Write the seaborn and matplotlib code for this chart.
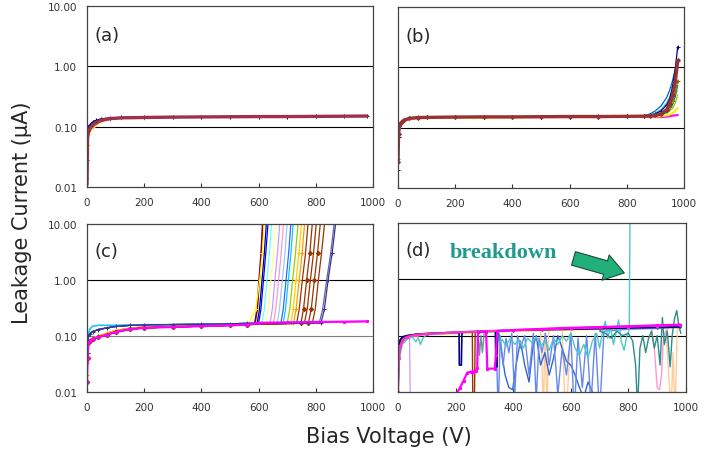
import matplotlib
matplotlib.use("Agg")
import matplotlib.pyplot as plt
import seaborn as sns
from matplotlib.ticker import NullLocator


# ---- panel (a): all diodes stable ----
a_volt = [0, 2, 5, 10, 20, 30, 50, 80, 120, 200, 300, 400, 500, 600, 700, 800, 900, 980]
a_navy = [0.028, 0.085, 0.1, 0.108, 0.12, 0.127, 0.135, 0.14, 0.142, 0.143, 0.144, 0.145, 0.146, 0.146, 0.147, 0.148, 0.149, 0.15]
a_blue = [0.02, 0.07, 0.09, 0.1, 0.112, 0.12, 0.13, 0.137, 0.14, 0.142, 0.143, 0.144, 0.145, 0.146, 0.147, 0.148, 0.149, 0.15]
a_yellow = [0.014, 0.05, 0.075, 0.088, 0.1, 0.11, 0.123, 0.133, 0.138, 0.141, 0.143, 0.144, 0.145, 0.146, 0.146, 0.147, 0.148, 0.149]
a_green = [0.012, 0.055, 0.07, 0.085, 0.098, 0.108, 0.122, 0.132, 0.137, 0.14, 0.142, 0.143, 0.144, 0.145, 0.146, 0.147, 0.148, 0.149]
a_magenta = [0.01, 0.06, 0.08, 0.092, 0.104, 0.113, 0.126, 0.134, 0.139, 0.141, 0.143, 0.144, 0.145, 0.146, 0.147, 0.148, 0.149, 0.15]
a_plum = [0.011, 0.065, 0.082, 0.094, 0.106, 0.116, 0.128, 0.136, 0.14, 0.142, 0.144, 0.145, 0.146, 0.147, 0.147, 0.148, 0.149, 0.15]

# ---- panel (b): soft rise above ~880 V ----
b_volt = [0, 2, 5, 10, 20, 40, 70, 100, 200, 300, 400, 500, 600, 700, 800, 860,
          880, 900, 920, 940, 950, 960, 970, 978]
b_navy = [0.02, 0.07, 0.11, 0.125, 0.135, 0.145, 0.148, 0.148, 0.15, 0.151, 0.152, 0.152, 0.153, 0.154, 0.155, 0.156,
          0.16, 0.17, 0.19, 0.24, 0.3, 0.48, 1.0, 2.2]
b_blue = [0.025, 0.075, 0.105, 0.122, 0.133, 0.144, 0.147, 0.148, 0.15, 0.151, 0.151, 0.152, 0.153, 0.153, 0.155, 0.158,
          0.168, 0.19, 0.23, 0.32, 0.42, 0.6, 0.95, 1.15]
b_cyan = [0.03, 0.08, 0.105, 0.12, 0.132, 0.143, 0.147, 0.148, 0.15, 0.151, 0.151, 0.152, 0.153, 0.153, 0.154, 0.156,
          0.162, 0.175, 0.2, 0.26, 0.32, 0.45, 0.7, 1.1]
b_maroon = [0.027, 0.08, 0.105, 0.12, 0.132, 0.143, 0.147, 0.148, 0.15, 0.151, 0.151, 0.152, 0.153, 0.153, 0.154, 0.155,
            0.156, 0.16, 0.17, 0.2, 0.25, 0.35, 0.6, 1.3]
b_olive = [0.03, 0.08, 0.105, 0.12, 0.132, 0.143, 0.147, 0.148, 0.15, 0.151, 0.151, 0.152, 0.153, 0.153, 0.154, 0.155,
           0.156, 0.16, 0.17, 0.19, 0.22, 0.28, 0.4, 0.6]
b_teal = [0.025, 0.08, 0.105, 0.12, 0.132, 0.143, 0.147, 0.148, 0.15, 0.151, 0.151, 0.152, 0.153, 0.153, 0.154, 0.155,
          0.155, 0.158, 0.165, 0.18, 0.2, 0.24, 0.33, 0.5]
b_lime = [0.03, 0.08, 0.105, 0.12, 0.132, 0.143, 0.147, 0.148, 0.15, 0.151, 0.151, 0.152, 0.153, 0.153, 0.154, 0.155,
          0.155, 0.157, 0.162, 0.175, 0.19, 0.21, 0.26, 0.35]
b_yellow = [0.03, 0.085, 0.1, 0.115, 0.13, 0.14, 0.145, 0.146, 0.148, 0.146, 0.148, 0.15, 0.15, 0.15, 0.151, 0.152,
            0.152, 0.153, 0.155, 0.16, 0.165, 0.175, 0.19, 0.21]
b_magenta = [0.03, 0.085, 0.1, 0.115, 0.13, 0.14, 0.145, 0.146, 0.148, 0.148, 0.149, 0.15, 0.15, 0.15, 0.151, 0.151,
             0.15, 0.15, 0.15, 0.152, 0.155, 0.158, 0.16, 0.162]

# ---- panel (c): hard breakdown between 590 and 870 V ----
c_volt_low = [0, 2, 5, 10, 20, 40, 70, 100, 150, 200, 300, 400, 500, 560]
c_low_cyan = [0.02, 0.06, 0.11, 0.135, 0.15, 0.155, 0.155, 0.155, 0.158, 0.16, 0.16, 0.162, 0.165, 0.168]
c_low_navy = [0.015, 0.05, 0.1, 0.11, 0.12, 0.13, 0.14, 0.148, 0.155, 0.158, 0.16, 0.162, 0.165, 0.168]
c_low_brown = [0.015, 0.04, 0.075, 0.082, 0.088, 0.095, 0.105, 0.118, 0.132, 0.14, 0.145, 0.15, 0.155, 0.16]
c_low_orange = [0.02, 0.05, 0.08, 0.085, 0.09, 0.1, 0.112, 0.125, 0.138, 0.145, 0.15, 0.153, 0.158, 0.162]

# current levels and the voltage each diode reaches them at
c_bd_curr = [0.17, 0.3, 1.0, 3.0, 12.0]
c_bd_volts = [
    [586, 594, 601, 608, 614],
    [588, 596, 603, 610, 616],
    [565, 590, 604, 613, 620],
    [595, 603, 612, 620, 628],
    [600, 608, 617, 625, 634],
    [612, 620, 629, 638, 646],
    [626, 634, 643, 652, 661],
    [640, 648, 657, 666, 675],
    [652, 660, 670, 679, 688],
    [665, 673, 683, 692, 701],
    [678, 686, 696, 705, 714],
    [686, 694, 704, 713, 722],
    [700, 709, 719, 729, 739],
    [712, 721, 731, 741, 751],
    [722, 731, 742, 752, 762],
    [733, 742, 753, 764, 774],
    [748, 757, 768, 779, 789],
    [760, 770, 781, 792, 803],
    [774, 784, 795, 806, 817],
    [788, 798, 809, 820, 832],
    [812, 824, 838, 852, 866],
    [818, 830, 843, 857, 871],
]
c_bd_colors = ["#800080", "#800000", "#FFFF00", "#000080", "#0000FF", "#66FFFF", "#FFFF99", "#CC99FF",
               "#FF99CC", "#99CCFF", "#3366FF", "#00CCFF", "#99CC00", "#FFCC00", "#FF9900", "#993300",
               "#993300", "#993300", "#993300", "#993300", "#666699", "#333399"]
c_bd_markers = [None, None, "+", None, None, None, None, None,
                None, None, None, None, None, "+", "+", None,
                "D", None, "D", None, None, "+"]
c_bd_profile = [2, 2, 3, 1, 1, 0, 3, 3, 0, 0, 1, 0, 3, 3, 3, 2, 2, 2, 2, 2, 1, 1]

c_flat_volt = [600, 700, 800, 900, 980]
c_flat_magenta = [0.172, 0.175, 0.178, 0.18, 0.183]
c_flat_pink = [0.17, 0.172, 0.175, 0.177, 0.18]

# ---- panel (d): unstable diodes ----
d_volt = [0, 3, 8, 15, 30, 60, 100, 200, 300, 400, 500, 600, 700, 800, 900, 980]
d_black = [0.025, 0.065, 0.085, 0.095, 0.1, 0.105, 0.108, 0.114, 0.119, 0.123, 0.126, 0.129, 0.132, 0.136, 0.139, 0.142]
d_yellow = [0.012, 0.04, 0.065, 0.08, 0.093, 0.1, 0.105, 0.111, 0.116, 0.12, 0.124, 0.127, 0.13, 0.134, 0.137, 0.14]
d_lightblue = [0.015, 0.045, 0.068, 0.082, 0.095, 0.102, 0.106, 0.112, 0.117, 0.121, 0.125, 0.128, 0.131, 0.135, 0.138, 0.141]
d_orange = [0.01, 0.035, 0.06, 0.078, 0.09, 0.098, 0.104, 0.11, 0.115, 0.12, 0.124, 0.128, 0.132, 0.136, 0.14, 0.144]
d_magenta = [0.01, 0.04, 0.065, 0.08, 0.095, 0.103, 0.107, 0.114, 0.12, 0.125, 0.13, 0.135, 0.14, 0.145, 0.15, 0.155]

d_lav_volt = [0, 5, 15, 30, 40, 43]
d_lav_curr = [0.01, 0.05, 0.08, 0.095, 0.1, 0.005]

d_navy_volt = [0, 3, 8, 15, 30, 60, 100, 150, 200, 212, 213, 220, 222, 300, 338, 340, 344, 346,
               400, 500, 600, 700, 800, 900, 980]
d_navy_curr = [0.03, 0.07, 0.085, 0.095, 0.1, 0.105, 0.108, 0.112, 0.114, 0.115, 0.03, 0.03, 0.116, 0.12,
               0.122, 0.028, 0.028, 0.123, 0.125, 0.128, 0.13, 0.133, 0.137, 0.14, 0.143]

d_brown_volt = [0, 3, 8, 15, 30, 60, 100, 200, 250, 258, 260, 265, 268, 300, 400, 500, 600, 700, 800, 900, 980]
d_brown_curr = [0.012, 0.05, 0.075, 0.09, 0.1, 0.106, 0.11, 0.115, 0.118, 0.118, 0.004, 0.004, 0.118, 0.12,
                0.124, 0.128, 0.132, 0.136, 0.14, 0.143, 0.147]

d_gray_volt = [270, 278, 283, 288, 293, 300]
d_gray_curr = [0.118, 0.118, 0.045, 0.1, 0.05, 0.119]

d_mag2_volt = [195, 203, 215, 228, 240, 252, 262, 270, 275, 278, 306, 310, 336, 340, 344,
               400, 500, 600, 700, 800, 900, 980]
d_mag2_curr = [0.005, 0.009, 0.012, 0.016, 0.022, 0.023, 0.023, 0.024, 0.027, 0.115, 0.118, 0.026, 0.026,
               0.045, 0.12, 0.126, 0.132, 0.138, 0.142, 0.147, 0.152, 0.157]

d_aqua_volt = [0, 5, 15, 30, 50, 62, 70, 78, 86, 95, 110, 200, 300, 345, 352, 362, 375, 390, 405, 420,
               435, 450, 465, 480, 495, 510, 525, 540, 555, 570, 585, 600, 615, 630, 645, 660, 675, 690,
               700, 712, 720, 728, 738, 748, 758, 766, 775, 785, 795, 803, 806]
d_aqua_curr = [0.01, 0.04, 0.07, 0.085, 0.095, 0.078, 0.092, 0.07, 0.088, 0.1, 0.105, 0.112, 0.117, 0.118,
               0.075, 0.085, 0.065, 0.09, 0.07, 0.085, 0.06, 0.09, 0.075, 0.095, 0.065, 0.08, 0.055, 0.09,
               0.07, 0.1, 0.08, 0.11, 0.06, 0.045, 0.07, 0.04, 0.08, 0.11, 0.06, 0.13, 0.18, 0.09, 0.14,
               0.07, 0.12, 0.19, 0.08, 0.055, 0.1, 0.13, 30]

d_blue1_volt = [0, 5, 15, 30, 60, 100, 200, 300, 340, 348, 355, 365, 375, 385, 395, 405, 415, 425, 440,
                455, 470, 480, 490, 500, 512, 525, 540, 555, 570, 585, 600, 612, 625, 640, 655, 670, 685,
                700, 715, 800, 900, 980]
d_blue1_curr = [0.01, 0.05, 0.08, 0.095, 0.105, 0.11, 0.115, 0.12, 0.122, 0.004, 0.1, 0.03, 0.09, 0.05,
                0.11, 0.008, 0.1, 0.06, 0.1, 0.02, 0.11, 0.007, 0.09, 0.05, 0.11, 0.03, 0.1, 0.009, 0.06,
                0.02, 0.11, 0.004, 0.09, 0.012, 0.1, 0.006, 0.11, 0.004, 0.12, 0.13, 0.135, 0.14]

d_blue2_volt = [350, 360, 372, 385, 398, 410, 425, 440, 455, 468, 480, 495, 510, 525, 540, 555, 570, 585,
                600, 615, 630, 645, 660, 675, 690]
d_blue2_curr = [0.11, 0.05, 0.02, 0.012, 0.011, 0.03, 0.08, 0.03, 0.015, 0.06, 0.1, 0.03, 0.05, 0.02, 0.04,
                0.1, 0.06, 0.035, 0.03, 0.02, 0.012, 0.008, 0.015, 0.01, 0.005]

d_tan_volt = [0, 5, 15, 30, 60, 100, 200, 300, 400, 495, 500, 505, 510, 518, 522, 526, 540, 570, 578, 585,
              592, 600, 700, 800, 900, 930, 940, 948, 955, 962, 970, 980]
d_tan_curr = [0.01, 0.05, 0.078, 0.092, 0.102, 0.108, 0.113, 0.118, 0.122, 0.125, 0.03, 0.004, 0.11, 0.004,
              0.1, 0.126, 0.127, 0.128, 0.01, 0.004, 0.02, 0.129, 0.132, 0.136, 0.14, 0.14, 0.02, 0.004,
              0.05, 0.004, 0.13, 0.144]

d_pink_volt = [0, 5, 15, 30, 60, 100, 200, 400, 600, 800, 880, 890, 900, 908, 915, 922, 940, 980]
d_pink_curr = [0.01, 0.045, 0.072, 0.088, 0.1, 0.106, 0.112, 0.122, 0.13, 0.138, 0.14, 0.06, 0.012, 0.011,
               0.02, 0.1, 0.142, 0.146]

d_teal_volt = [700, 720, 740, 760, 780, 800, 815, 825, 832, 840, 850, 860, 870, 880, 890, 900, 910, 918,
               925, 935, 945, 952, 960, 968, 975, 982]
d_teal_curr = [0.12, 0.11, 0.09, 0.12, 0.1, 0.11, 0.08, 0.03, 0.005, 0.06, 0.1, 0.05, 0.09, 0.12, 0.06, 0.1,
               0.03, 0.21, 0.07, 0.12, 0.028, 0.1, 0.2, 0.28, 0.15, 0.11]


sns.set_style("white")
plt.rcParams["font.family"] = ["DejaVu Sans"]


def draw(ax, volt, curr, color, lw=0.9, marker=None, ms=2.2):
    kw = {}
    if marker:
        kw = dict(marker=marker, markersize=ms, markeredgewidth=0.7, markeredgecolor=color)
    sns.lineplot(x=volt, y=curr, ax=ax, color=color, linewidth=lw,
                 estimator=None, sort=False, legend=False, **kw)


def style(ax, label, grid_low="black", ylabels=True):
    ax.set_yscale("log")
    ax.set_xlim(0, 1000)
    ax.set_ylim(0.01, 10)
    ax.set_yticks([0.01, 0.1, 1, 10])
    if ylabels:
        ax.set_yticklabels(["0.01", "0.10", "1.00", "10.00"])
    else:
        ax.set_yticklabels([])
    ax.yaxis.set_minor_locator(NullLocator())
    ax.set_xticks(range(0, 1001, 200))
    ax.tick_params(axis="x", direction="in", length=3, width=0.8, labelsize=7.5,
                   pad=7, colors="#333333", bottom=True)
    ax.tick_params(axis="y", length=0, labelsize=7.5, pad=7, colors="#333333")
    ax.axhline(1.0, color="black", lw=0.8, zorder=0)
    ax.axhline(0.1, color=grid_low, lw=0.8, zorder=0)
    for sp in ax.spines.values():
        sp.set_color("#444444")
        sp.set_linewidth(0.9)
    ax.set_xlabel("")
    ax.set_ylabel("")
    ax.text(0.025, 0.84, label, transform=ax.transAxes, fontsize=13, va="center")


fig = plt.figure(figsize=(7.13, 4.52), dpi=100)
ax_a = fig.add_axes([87 / 713, 1 - 188 / 452, 286 / 713, 181 / 452])
ax_b = fig.add_axes([398 / 713, 1 - 189 / 452, 286 / 713, 181 / 452])
ax_c = fig.add_axes([87 / 713, 1 - 393 / 452, 286 / 713, 168 / 452])
ax_d = fig.add_axes([398 / 713, 1 - 393 / 452, 288 / 713, 169 / 452])

# (a)
draw(ax_a, a_volt, a_yellow, "#FFCC00", marker="+")
draw(ax_a, a_volt, a_green, "#808000")
draw(ax_a, a_volt, a_blue, "#3366FF")
draw(ax_a, a_volt, a_magenta, "#FF00FF")
draw(ax_a, a_volt, a_navy, "#000080", marker="+")
draw(ax_a, a_volt, a_plum, "#A0304C", lw=2.4)

# (b)
draw(ax_b, b_volt, b_magenta, "#FF00FF", lw=1.5)
draw(ax_b, b_volt, b_yellow, "#FFEE00", lw=1.5)
draw(ax_b, b_volt, b_lime, "#99CC00")
draw(ax_b, b_volt, b_teal, "#008080")
draw(ax_b, b_volt, b_olive, "#808000", marker="+")
draw(ax_b, b_volt, b_cyan, "#33CCCC")
draw(ax_b, b_volt, b_blue, "#0066CC")
draw(ax_b, b_volt, b_navy, "#000080", marker="+")
draw(ax_b, b_volt, b_maroon, "#993333", lw=2.4, marker="D", ms=2)

# (c)
c_low_profiles = [c_low_cyan, c_low_navy, c_low_brown, c_low_orange]
draw(ax_c, c_volt_low + c_flat_volt, c_low_orange + c_flat_pink, "#FF99CC")
for i, color in enumerate(c_bd_colors):
    low = c_low_profiles[c_bd_profile[i]]
    draw(ax_c, c_volt_low + c_bd_volts[i], low + c_bd_curr, color, marker=c_bd_markers[i])
draw(ax_c, c_volt_low + c_flat_volt, c_low_brown + c_flat_magenta, "#FF00FF", lw=1.6, marker="s", ms=1.8)

# (d)
draw(ax_d, d_volt, d_orange, "#FFCC99")
draw(ax_d, d_volt, d_lightblue, "#99CCFF")
draw(ax_d, d_volt, d_yellow, "#FFFF00", lw=1.3)
draw(ax_d, d_volt, d_black, "#333333", lw=0.8, marker=".", ms=2)
draw(ax_d, d_lav_volt, d_lav_curr, "#CC99FF")
draw(ax_d, d_tan_volt, d_tan_curr, "#FFCC99", lw=1.0)
draw(ax_d, d_pink_volt, d_pink_curr, "#FF99CC", lw=1.0)
draw(ax_d, d_brown_volt, d_brown_curr, "#993300", lw=1.0)
draw(ax_d, d_gray_volt, d_gray_curr, "#669999", lw=1.0)
draw(ax_d, d_blue2_volt, d_blue2_curr, "#3366CC", lw=1.0)
draw(ax_d, d_blue1_volt, d_blue1_curr, "#6688EE", lw=1.0)
draw(ax_d, d_aqua_volt, d_aqua_curr, "#4CC8C8", lw=1.0)
draw(ax_d, d_teal_volt, d_teal_curr, "#2E8B8B", lw=1.0)
draw(ax_d, d_navy_volt, d_navy_curr, "#000080", lw=1.2)
draw(ax_d, d_volt, d_magenta, "#FF33CC", lw=1.6, marker="s", ms=1.8)
draw(ax_d, d_mag2_volt, d_mag2_curr, "#FF00FF", lw=1.6, marker="s", ms=1.8)

style(ax_a, "(a)")
style(ax_b, "(b)", ylabels=False)
style(ax_c, "(c)", grid_low="#808080")
style(ax_d, "(d)", ylabels=False)

ax_d.text(0.18, 0.83, "breakdown", transform=ax_d.transAxes, fontsize=16,
          fontweight="bold", family="Liberation Serif", color="#1F9A8C", va="center")
ax_d.annotate("", xy=(0.795, 0.7), xytext=(0.6, 0.795), xycoords="axes fraction",
              arrowprops=dict(arrowstyle="simple,head_length=1.0,head_width=1.35,tail_width=0.72",
                              mutation_scale=14, fc="#22B07A", ec="#1C4A3A", lw=0.8))

fig.text(0.031, 0.53, "Leakage Current (\u03bcA)", rotation=90, ha="center", va="center", fontsize=15)
fig.text(0.546, 0.033, "Bias Voltage (V)", ha="center", va="center", fontsize=15)

fig.savefig("out.png", dpi=100)
